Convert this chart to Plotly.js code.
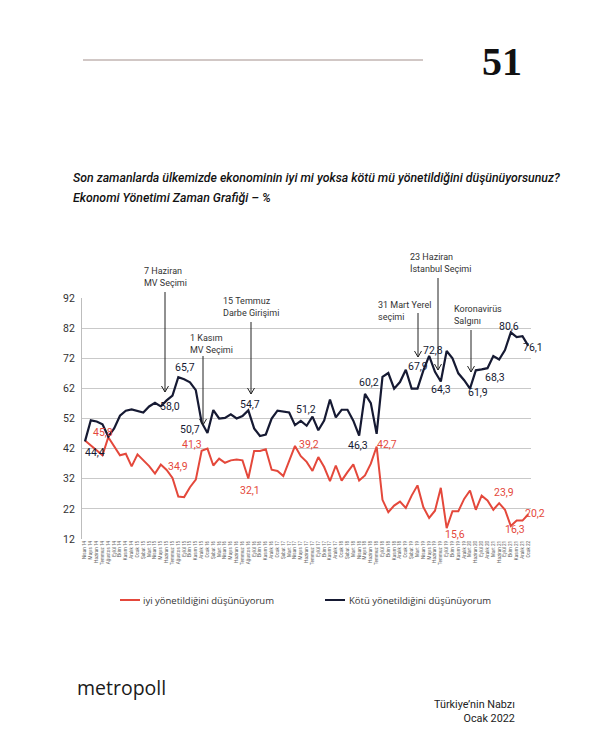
<!DOCTYPE html>
<html><head><meta charset="utf-8">
<script src="https://cdn.plot.ly/plotly-3.0.1.min.js"></script>
<style>html,body{margin:0;padding:0;background:#fff;} #chart{width:600px;height:751px;}</style>
</head><body><div id="chart"></div>
<script>
// ---- DATA ----
const months = [
 'Nisan 14','Mayıs 14','Haziran 14','Temmuz 14','Ağustos 14','Eylül 14','Ekim 14','Kasım 14','Aralık 14',
 'Ocak 15','Şubat 15','Mart 15','Nisan 15','Mayıs 15','Haziran 15','Temmuz 15','Ağustos 15','Eylül 15','Ekim 15','Kasım 15','Aralık 15',
 'Ocak 16','Şubat 16','Mart 16','Nisan 16','Mayıs 16','Haziran 16','Temmuz 16','Ağustos 16','Eylül 16','Ekim 16','Kasım 16','Aralık 16',
 'Ocak 17','Şubat 17','Mart 17','Nisan 17','Mayıs 17','Haziran 17','Temmuz 17','Eylül 17','Ekim 17','Kasım 17','Aralık 17',
 'Ocak 18','Şubat 18','Mart 18','Nisan 18','Mayıs 18','Haziran 18','Temmuz 18','Eylül 18','Ekim 18','Kasım 18','Aralık 18',
 'Ocak 19','Şubat 19','Mart 19','Nisan 19','Mayıs 19','Haziran 19','Temmuz 19','Eylül 19','Ekim 19','Kasım 19','Aralık 19',
 'Mart 20','Haziran 20','Eylül 20','Aralık 20',
 'Mart 21','Haziran 21','Eylül 21','Ekim 21','Kasım 21','Aralık 21','Ocak 22'
];
const iyi = [44.7,43.1,41.4,39.8,45.8,42.6,39.8,40.3,36.1,40.1,
 38.3,36.2,33.7,36.7,34.9,32.3,26.1,25.9,29.2,31.7,
 41.3,42.0,36.4,38.7,37.3,38.1,38.4,38.1,32.1,41.2,
 41.2,41.8,35.0,34.6,32.9,37.9,42.9,39.5,37.6,34.6,
 39.2,35.9,31.2,36.4,31.4,34.2,36.8,31.4,33.1,37.0,
 42.7,25.0,20.9,23.1,24.4,22.3,26.4,29.8,22.6,19.0,
 21.4,29.0,15.6,21.2,21.2,25.3,28.1,21.7,26.4,24.8,
 21.7,23.9,21.7,16.3,18.1,18.1,20.2];
const kotu = [44.4,51.4,51.0,50.1,46.0,48.7,52.9,54.6,55.0,54.5,
 54.0,56.0,57.2,56.0,58.0,59.6,65.7,65.0,64.0,61.4,
 50.7,47.2,54.8,52.0,52.2,53.4,52.0,52.8,54.7,48.7,
 46.2,46.7,52.0,54.6,54.2,54.0,49.8,51.2,49.6,52.6,
 48.1,51.3,58.3,52.4,54.9,54.9,51.3,46.3,60.2,57.1,
 46.9,65.8,67.1,61.9,64.1,68.2,61.9,61.9,67.9,72.8,
 67.5,64.3,74.4,72.0,67.0,64.7,61.9,68.0,68.3,68.7,
 72.7,71.6,74.7,80.6,79.0,79.3,76.1];
const yTicks = [12,22,32,42,52,62,72,82,92];
const seriesNames = ['iyi yönetildiğini düşünüyorum','Kötü yönetildiğini düşünüyorum'];
const iyiLabelIdx  = [4,14,20,28,36,50,62,71,73,76];
const iyiLabelText = ['45,8','34,9','41,3','32,1','39,2','42,7','15,6','23,9','16,3','20,2'];
const kotuLabelIdx  = [0,14,16,20,28,37,47,48,58,59,61,66,68,73,76];
const kotuLabelText = ['44,4','58,0','65,7','50,7','54,7','51,2','46,3','60,2','67,9','72,8','64,3','61,9','68,3','80,6','76,1'];
const eventTexts = ['7 Haziran<br>MV Seçimi','1 Kasım<br>MV Seçimi','15 Temmuz<br>Darbe Girişimi','31 Mart Yerel<br>seçimi','23 Haziran<br>İstanbul Seçimi','Koronavirüs<br>Salgını'];

// ---- STYLE / LAYOUT ----
const RED = '#e4483b', NAVY = '#161a33';
const L = 82, R = 531, T = 298, B = 539;
const PX = px => (px - L) / (R - L);
const PY = py => (B - py) / (B - T);
const xs = months.map((_, i) => i);

const iyiShift  = [[-5,5],[11,4],[-10,6],[2,-12],[14,1],[10,2],[8,-6],[5,11],[4,-3],[7,1]];
const kotuShift = [[10,-11],[3,-6],[7,10],[-12,-7],[2,6],[5,11],[-1,-10],[4,11],[-5,4],[4,5],[0,-8],[8,-4],[13,-8],[-2,6],[5,-2]];
const eventPos = [[143,277,165,292,392],[189,344,203,356,425],[222,307,251,322,394],[377,311,418,313,357],[409,263,438,278,370],[453,315,471,330,372]];

const labFont = 'Roboto, "Open Sans", sans-serif';
const annotations = [];
iyiLabelIdx.forEach((idx, k) => annotations.push({x: idx, y: iyi[idx], xref:'x', yref:'y', text: iyiLabelText[k], showarrow:false,
  xshift: iyiShift[k][0], yshift: iyiShift[k][1], font:{family: labFont, size: 10.5, color: RED}}));
kotuLabelIdx.forEach((idx, k) => annotations.push({x: idx, y: kotu[idx], xref:'x', yref:'y', text: kotuLabelText[k], showarrow:false,
  xshift: kotuShift[k][0], yshift: kotuShift[k][1], font:{family: labFont, size: 10.5, color: NAVY}}));

const shapes = [];
eventTexts.forEach((t, k) => {
  const [tx, ty, ax, tail, tip] = eventPos[k];
  annotations.push({x: PX(tx), y: PY(ty), xref:'paper', yref:'paper', xanchor:'left', yanchor:'middle', align:'left',
    text: t, showarrow:false, font:{family: labFont, size: 9, color:'#333'}, borderpad:0});
  shapes.push({type:'path', xref:'paper', yref:'paper', line:{color:'#222', width:1},
    path: `M ${PX(ax)} ${PY(tail)} L ${PX(ax)} ${PY(tip)} M ${PX(ax-3.5)} ${PY(tip-6)} L ${PX(ax)} ${PY(tip)} L ${PX(ax+3.5)} ${PY(tip-6)}`});
});

// header
shapes.push({type:'line', xref:'paper', yref:'paper', x0: PX(83), x1: PX(423), y0: PY(60), y1: PY(60), line:{color:'#a3908c', width:1}});
annotations.push({x: PX(502), y: PY(62), xref:'paper', yref:'paper', text:'51', showarrow:false, xanchor:'center', yanchor:'middle',
  font:{family:'"Liberation Serif", "DejaVu Serif", serif', size:40, weight:700, color:'#111'}});
annotations.push({x: PX(71), y: PY(178), xref:'paper', yref:'paper', xanchor:'left', yanchor:'middle', showarrow:false,
  text:'Son zamanlarda ülkemizde ekonominin iyi mi yoksa kötü mü yönetildiğini düşünüyorsunuz?',
  font:{family: labFont, size: 12.3, weight: 500, style:'italic', color:'#111'}});
annotations.push({x: PX(71), y: PY(198), xref:'paper', yref:'paper', xanchor:'left', yanchor:'middle', showarrow:false,
  text:'Ekonomi Yönetimi Zaman Grafiği – %',
  font:{family: labFont, size: 12.3, weight: 500, style:'italic', color:'#111'}});

// legend (manual)
shapes.push({type:'line', xref:'paper', yref:'paper', x0: PX(120), x1: PX(140), y0: PY(600), y1: PY(600), line:{color:RED, width:2}});
shapes.push({type:'line', xref:'paper', yref:'paper', x0: PX(325), x1: PX(345), y0: PY(600), y1: PY(600), line:{color:NAVY, width:2}});
annotations.push({x: PX(141), y: PY(600), xref:'paper', yref:'paper', xanchor:'left', yanchor:'middle', showarrow:false,
  text: seriesNames[0], font:{family:'"Open Sans", sans-serif', size:9.5, color:'#333'}});
annotations.push({x: PX(347), y: PY(600), xref:'paper', yref:'paper', xanchor:'left', yanchor:'middle', showarrow:false,
  text: seriesNames[1], font:{family:'"Open Sans", sans-serif', size:9.5, color:'#333'}});

// footer
annotations.push({x: PX(75), y: PY(687), xref:'paper', yref:'paper', xanchor:'left', yanchor:'middle', showarrow:false,
  text:'metropoll', font:{family:'"Open Sans", sans-serif', size:19.5, color:'#1a1a1a'}});
annotations.push({x: PX(517), y: PY(711), xref:'paper', yref:'paper', xanchor:'right', yanchor:'middle', align:'right', showarrow:false,
  text:'Türkiye’nin Nabzı<br>Ocak 2022', font:{family: labFont, size:10.8, color:'#222'}});

const traces = [
  {x: xs, y: iyi, type:'scatter', mode:'lines', name: seriesNames[0], line:{color:RED, width:2}},
  {x: xs, y: kotu, type:'scatter', mode:'lines', name: seriesNames[1], line:{color:NAVY, width:2.2}}
];

const layout = {
  width:600, height:751, paper_bgcolor:'#fff', plot_bgcolor:'#fff', showlegend:false,
  margin:{l:L, r:600-R, t:T, b:751-B, pad:0},
  xaxis:{range:[-0.51, 76.46], tickmode:'array', tickvals: xs, ticktext: months, tickangle:-90,
    tickfont:{family: labFont, size:4.6, color:'#666'}, showgrid:false, zeroline:false, showline:false, ticks:'', fixedrange:true},
  yaxis:{range:[12,92], tickmode:'array', tickvals: yTicks, ticktext: yTicks.map(String),
    tickfont:{family: labFont, size:10.5, color:'#333'}, gridcolor:'#c9c9c9', gridwidth:1, zeroline:false,
    showline:true, linecolor:'#bdbdbd', linewidth:1, ticks:'', ticklabelstandoff:4},
  annotations, shapes
};
Plotly.newPlot('chart', traces, layout, {staticPlot:true, displayModeBar:false});
</script></body></html>
